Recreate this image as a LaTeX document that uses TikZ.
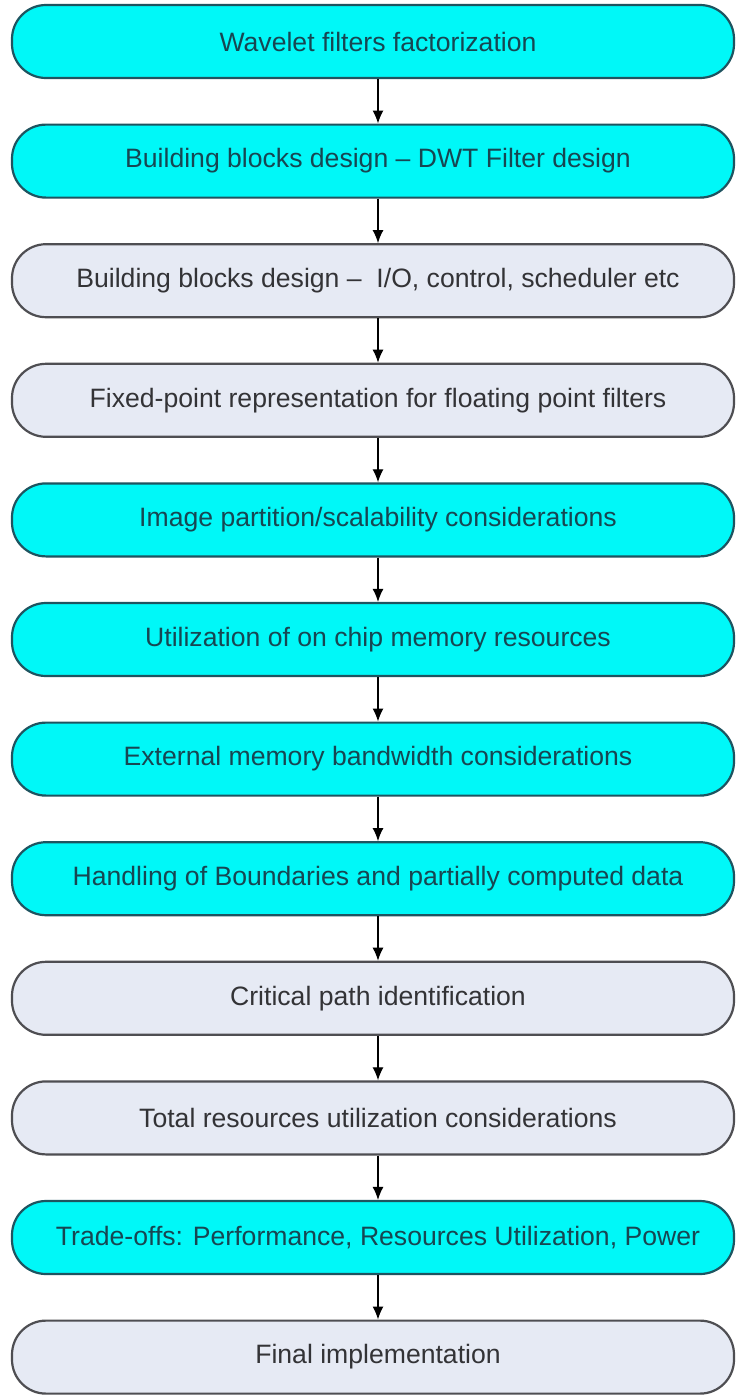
\documentclass[tikz,border=0pt]{standalone}
\usepackage{fontspec}
\setmainfont{Liberation Sans}
\usetikzlibrary{arrows.meta}
\definecolor{boxcyan}{HTML}{00F8F8}
\definecolor{cyanedge}{HTML}{1E5460}
\definecolor{cyantext}{HTML}{174652}
\definecolor{boxgrey}{HTML}{E6EAF4}
\definecolor{greyedge}{HTML}{4E4E52}
\definecolor{greytext}{HTML}{333336}
\begin{document}
\begin{tikzpicture}[x=1pt,y=1pt,
  box/.style={rounded corners=34pt, line width=2.2pt, minimum width=722pt,
    minimum height=73pt, inner sep=0pt, font=\fontsize{26.6}{30}\selectfont,
    execute at begin node=\hspace*{10pt}},
  hot/.style={box, fill=boxcyan, draw=cyanedge, text=cyantext},
  cool/.style={box, fill=boxgrey, draw=greyedge, text=greytext},
  flow/.style={-{Latex[length=13pt,width=11pt]}, line width=1.3pt, black}]
\useasboundingbox (0,0) rectangle (736,-1395);
\clip (0,0) rectangle (736,-1395);
\fill[white] (0,0) rectangle (736,-1395);

\node[hot]  (n1)  at (373,-41.5)   {Wavelet filters factorization};
\node[hot]  (n2)  at (373,-161.1)  {Building blocks design -- DWT Filter design};
\node[cool] (n3)  at (373,-280.7)  {Building blocks design --\ \ I/O, control, scheduler etc};
\node[cool] (n4)  at (373,-400.3)  {Fixed-point representation for floating point filters};
\node[hot]  (n5)  at (373,-519.9)  {Image partition/scalability considerations};
\node[hot]  (n6)  at (373,-639.5)  {Utilization of on chip memory resources};
\node[hot]  (n7)  at (373,-759.1)  {External memory bandwidth considerations};
\node[hot]  (n8)  at (373,-878.7)  {Handling of Boundaries and partially computed data};
\node[cool] (n9)  at (373,-998.3)  {Critical path identification};
\node[cool] (n10) at (373,-1117.9) {Total resources utilization considerations};
\node[hot]  (n11) at (373,-1237.5) {Trade-offs: Performance, Resources Utilization, Power};
\node[cool] (n12) at (373,-1357.1) {Final implementation};

% connectors run slightly right of the box centre line
\foreach \a/\b in {n1/n2,n2/n3,n3/n4,n4/n5,n5/n6,n6/n7,n7/n8,n8/n9,n9/n10,n10/n11,n11/n12}
  \draw[flow] ([xshift=5pt]\a.south) -- ([xshift=5pt]\b.north);
\end{tikzpicture}
\end{document}
